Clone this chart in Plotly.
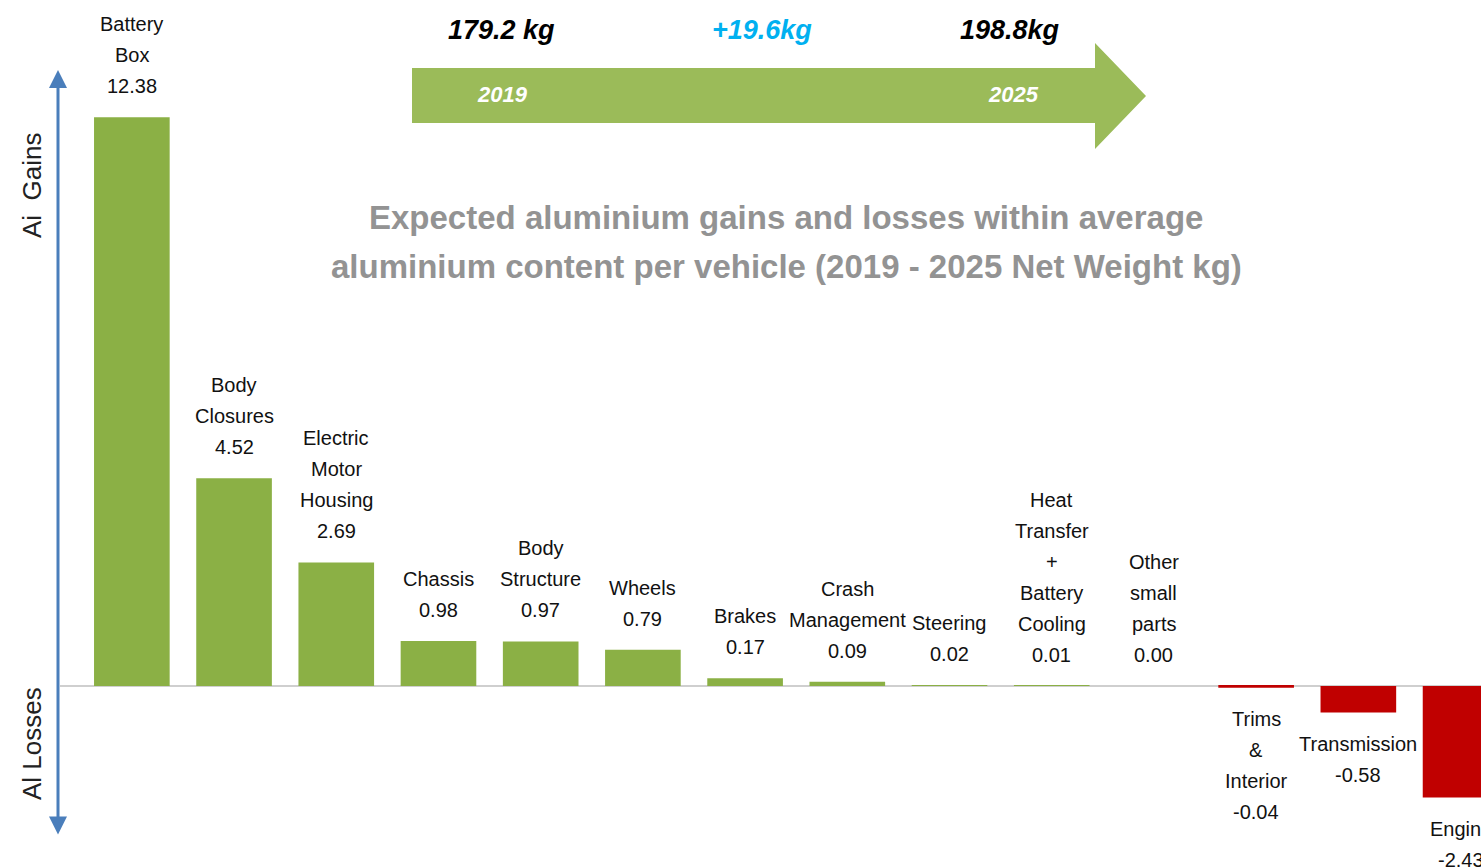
import plotly.graph_objects as go

# ---- data ----
categories = ["Battery Box", "Body Closures", "Electric Motor Housing", "Chassis",
              "Body Structure", "Wheels", "Brakes", "Crash Management", "Steering",
              "Heat Transfer + Battery Cooling", "Other small parts",
              "Trims & Interior", "Transmission", "Engine"]
values = [12.38, 4.52, 2.69, 0.98, 0.97, 0.79, 0.17, 0.09, 0.02, 0.01, 0.00,
          -0.04, -0.58, -2.43]
weight_2019 = "179.2 kg"
weight_delta = "+19.6kg"
weight_2025 = "198.8kg"
years = ["2019", "2025"]
title_lines = ["Expected aluminium gains and losses within average",
               "aluminium content per vehicle (2019 - 2025 Net Weight kg)"]

W, H = 1481, 867
GREEN = "#8BB045"
RED = "#C00000"
LABEL_FONT = "Liberation Sans, Arial"
LINE_H = 31

x_idx = list(range(len(categories)))
colors = [GREEN if v >= 0 else RED for v in values]

fig = go.Figure()
fig.add_trace(go.Bar(
    x=x_idx, y=values, width=0.74,
    marker=dict(color=colors, line=dict(width=0)),
    hovertext=categories, showlegend=False,
))

def px(x):
    return x / W

def py(y):
    return 1 - y / H

annotations = []
# data labels: name lines + value, above positive bars / below negative bars
for i, (name, v) in enumerate(zip(categories, values)):
    lines = name.split(" ") + [f"{v:.2f}"]
    if v >= 0:
        for k, line in enumerate(reversed(lines)):
            annotations.append(dict(x=i, y=v, xref="x", yref="y", text=line,
                                    showarrow=False, yanchor="middle", xanchor="center",
                                    yshift=LINE_H * (k + 1),
                                    font=dict(family=LABEL_FONT, size=20, color="#111111")))
    else:
        for k, line in enumerate(lines):
            annotations.append(dict(x=i, y=v, xref="x", yref="y", text=line,
                                    showarrow=False, yanchor="middle", xanchor="center",
                                    yshift=-LINE_H * (k + 1),
                                    font=dict(family=LABEL_FONT, size=20, color="#111111")))

# top arrow texts
BIG = "Liberation Sans, Arial"
for txt, xx, col in [(weight_2019, 501, "#000000"), (weight_delta, 762, "#00B0F0"),
                     (weight_2025, 1010, "#000000")]:
    annotations.append(dict(x=px(xx), y=py(30), xref="paper", yref="paper",
                            text=f"<b><i>{txt}</i></b>", showarrow=False,
                            xanchor="center", yanchor="middle",
                            font=dict(family=BIG, size=27, color=col)))
for txt, xx in zip(years, [503, 1013]):
    annotations.append(dict(x=px(xx), y=py(95), xref="paper", yref="paper",
                            text=f"<b><i>{txt}</i></b>", showarrow=False,
                            xanchor="center", yanchor="middle",
                            font=dict(family=BIG, size=22, color="#FFFFFF")))

# title
for txt, yy in zip(title_lines, [218, 266]):
    annotations.append(dict(x=px(786), y=py(yy), xref="paper", yref="paper",
                            text=f"<b>{txt}</b>", showarrow=False,
                            xanchor="center", yanchor="middle",
                            font=dict(family=BIG, size=33, color="#939393")))

# left axis arrow and labels
annotations.append(dict(x=px(58), y=py(70), xref="paper", yref="paper",
                        ax=0, ay=766, axref="pixel", ayref="pixel",
                        showarrow=True, arrowhead=2, arrowside="end+start",
                        arrowsize=1.2, arrowwidth=3, arrowcolor="#4A7EBB", text=""))
annotations.append(dict(x=px(32), y=py(185), xref="paper", yref="paper",
                        text="Ai\u00a0\u00a0Gains", textangle=-90, showarrow=False,
                        xanchor="center", yanchor="middle",
                        font=dict(family=LABEL_FONT, size=26, color="#222222")))
annotations.append(dict(x=px(32), y=py(744), xref="paper", yref="paper",
                        text="Al Losses", textangle=-90, showarrow=False,
                        xanchor="center", yanchor="middle",
                        font=dict(family=LABEL_FONT, size=26, color="#222222")))

shapes = [
    # zero line
    dict(type="line", xref="paper", yref="y", x0=px(60), x1=1, y0=0, y1=0,
         line=dict(color="#BFBFBF", width=1.5), layer="below"),
    # top block arrow
    dict(type="path", xref="paper", yref="paper",
         path=(f"M {px(412)},{py(68)} L {px(1095)},{py(68)} L {px(1095)},{py(43)} "
               f"L {px(1146)},{py(96)} L {px(1095)},{py(149)} L {px(1095)},{py(123)} "
               f"L {px(412)},{py(123)} Z"),
         fillcolor="#9BBB59", line=dict(width=0), layer="below"),
]

fig.update_layout(
    width=W, height=H,
    margin=dict(l=0, r=0, t=0, b=0),
    paper_bgcolor="white", plot_bgcolor="white",
    xaxis=dict(range=[-1.29, 13.2], visible=False, fixedrange=True),
    yaxis=dict(range=[-3.94, 14.93], visible=False, fixedrange=True),
    annotations=annotations, shapes=shapes,
)

fig.write_html("out.html", config={"displayModeBar": False},
               post_script="document.body.style.margin='0';document.body.style.overflow='hidden';")
